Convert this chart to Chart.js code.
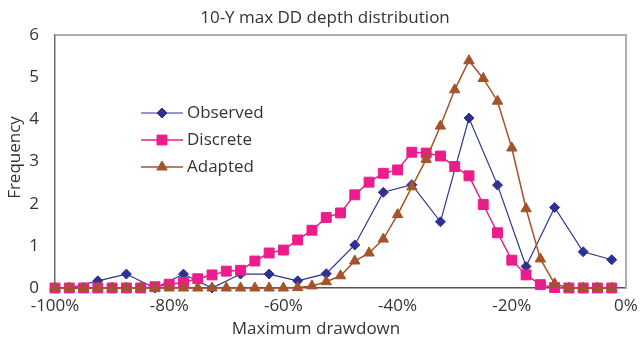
<!DOCTYPE html>
<html>
<head>
<meta charset="utf-8">
<script src="https://cdn.jsdelivr.net/npm/chart.js@4/dist/chart.umd.min.js"></script>
<style>
  html, body { margin: 0; padding: 0; background: #ffffff; }
  #wrap { width: 640px; height: 341px; }
  canvas { display: block; }
</style>
</head>
<body>
<div id="wrap"><canvas id="c" width="640" height="341"></canvas></div>
<script>
// ---- data ----
const chartTitle = '10-Y max DD depth distribution';
const xAxisTitle = 'Maximum drawdown';
const yAxisTitle = 'Frequency';
const seriesNames = ['Observed', 'Discrete', 'Adapted'];

const xFine = [-100, -97.5, -95, -92.5, -90, -87.5, -85, -82.5, -80, -77.5,
               -75, -72.5, -70, -67.5, -65, -62.5, -60, -57.5, -55, -52.5,
               -50, -47.5, -45, -42.5, -40, -37.5, -35, -32.5, -30, -27.5,
               -25, -22.5, -20, -17.5, -15, -12.5, -10, -7.5, -5, -2.5];
const xObserved = [-97.5, -92.5, -87.5, -82.5, -77.5, -72.5, -67.5, -62.5, -57.5, -52.5,
                   -47.5, -42.5, -37.5, -32.5, -27.5, -22.5, -17.5, -12.5, -7.5, -2.5];

const observed = [0, 0.17, 0.33, 0, 0.33, 0, 0.33, 0.33, 0.17, 0.34,
                  1.02, 2.27, 2.45, 1.57, 4.03, 2.44, 0.51, 1.91, 0.86, 0.67];
const discrete = [0, 0, 0, 0, 0, 0, 0, 0.03, 0.09, 0.13,
                  0.22, 0.31, 0.40, 0.42, 0.64, 0.83, 0.90, 1.14, 1.37, 1.67,
                  1.78, 2.21, 2.51, 2.72, 2.80, 3.22, 3.20, 3.13, 2.88, 2.66,
                  1.98, 1.31, 0.66, 0.31, 0.08, 0.01, 0, 0, 0, 0];
const adapted = [0, 0, 0, 0, 0, 0, 0, 0, 0, 0,
                 0, 0, 0, 0, 0, 0, 0, 0.01, 0.05, 0.15,
                 0.29, 0.64, 0.83, 1.16, 1.74, 2.40, 3.05, 3.84, 4.70, 5.39,
                 4.97, 4.43, 3.32, 1.88, 0.69, 0.10, 0, 0, 0, 0];

const xTickStep = 20;
const yTickStep = 1;

// ---- styles ----
const FONT = "'Open Sans', 'DejaVu Sans', sans-serif";
const TEXT = '#333333';
const colors = { observed: '#2E3192', discrete: '#EC1C8C', adapted: '#A3542B' };

Chart.defaults.font.family = FONT;
Chart.defaults.font.size = 17;
Chart.defaults.color = TEXT;

const toPts = (xs, ys) => xs.map((x, i) => ({ x: x, y: ys[i] }));

const datasets = [
  { label: seriesNames[0], data: toPts(xObserved, observed), borderColor: colors.observed,
    backgroundColor: colors.observed, pointStyle: 'rectRot', pointRadius: 5, borderWidth: 1.2,
    pointBorderWidth: 1, order: 2 },
  { label: seriesNames[1], data: toPts(xFine, discrete), borderColor: colors.discrete,
    backgroundColor: colors.discrete, pointStyle: 'rect', pointRadius: 7, borderWidth: 1.5,
    pointBorderWidth: 1, order: 1 },
  { label: seriesNames[2], data: toPts(xFine, adapted), borderColor: colors.adapted,
    backgroundColor: colors.adapted, pointStyle: 'triangle', pointRadius: 6, borderWidth: 1.5,
    pointBorderWidth: 1, order: 0 }
].map(d => Object.assign(d, { showLine: true, tension: 0, clip: false,
  pointHoverRadius: d.pointRadius }));

const decor = {
  id: 'decor',
  beforeDatasetsDraw(chart) {
    const { ctx, chartArea: a } = chart;
    ctx.save();
    ctx.strokeStyle = '#A7AFB7';
    ctx.lineWidth = 2;
    ctx.beginPath();
    ctx.moveTo(a.left, a.top);
    ctx.lineTo(a.right, a.top);
    ctx.lineTo(a.right, a.bottom);
    ctx.stroke();
    ctx.restore();
  },
  afterDraw(chart) {
    const { ctx, chartArea: a } = chart;
    ctx.save();
    ctx.fillStyle = TEXT;
    ctx.font = '17px ' + FONT;
    ctx.textAlign = 'center';
    ctx.textBaseline = 'middle';
    ctx.fillText(chartTitle, 325, 18);
    ctx.fillText(xAxisTitle, 316, 329);
    ctx.save();
    ctx.translate(15, (a.top + a.bottom) / 2 - 4);
    ctx.rotate(-Math.PI / 2);
    ctx.fillText(yAxisTitle, 0, 0);
    ctx.restore();

    // legend
    const rows = [113, 140, 167];
    chart.data.datasets.forEach((ds, i) => {
      const y = rows[i];
      ctx.strokeStyle = ds.borderColor;
      ctx.lineWidth = ds.borderWidth;
      ctx.beginPath();
      ctx.moveTo(141, y);
      ctx.lineTo(183, y);
      ctx.stroke();
      ctx.fillStyle = ds.backgroundColor;
      ctx.lineWidth = 1;
      Chart.helpers.drawPoint(ctx, { pointStyle: ds.pointStyle, radius: ds.pointRadius,
        rotation: 0, borderWidth: 1 }, 162, y);
      ctx.fillStyle = TEXT;
      ctx.textAlign = 'left';
      ctx.fillText(ds.label, 187, y);
    });
    ctx.restore();
  }
};

new Chart(document.getElementById('c'), {
  type: 'scatter',
  data: { datasets: datasets },
  options: {
    responsive: false,
    animation: false,
    events: [],
    layout: { padding: { top: 35, right: 14, left: 0, bottom: 0 } },
    plugins: { legend: { display: false }, tooltip: { enabled: false }, title: { display: false } },
    scales: {
      x: {
        type: 'linear', min: -100, max: 0,
        afterFit(s) { s.height = 53; },
        grid: { display: false },
        border: { display: true, color: '#555555', width: 1.5 },
        ticks: { stepSize: xTickStep, padding: 0, maxRotation: 0, color: TEXT,
                 callback: v => v + '%' }
      },
      y: {
        type: 'linear', min: 0, max: 6,
        afterFit(s) { s.width = 55; },
        grid: { display: false },
        border: { display: true, color: '#6E6E6E', width: 1.5 },
        ticks: { stepSize: yTickStep, padding: 8, color: TEXT }
      }
    }
  },
  plugins: [decor]
});
</script>
</body>
</html>
